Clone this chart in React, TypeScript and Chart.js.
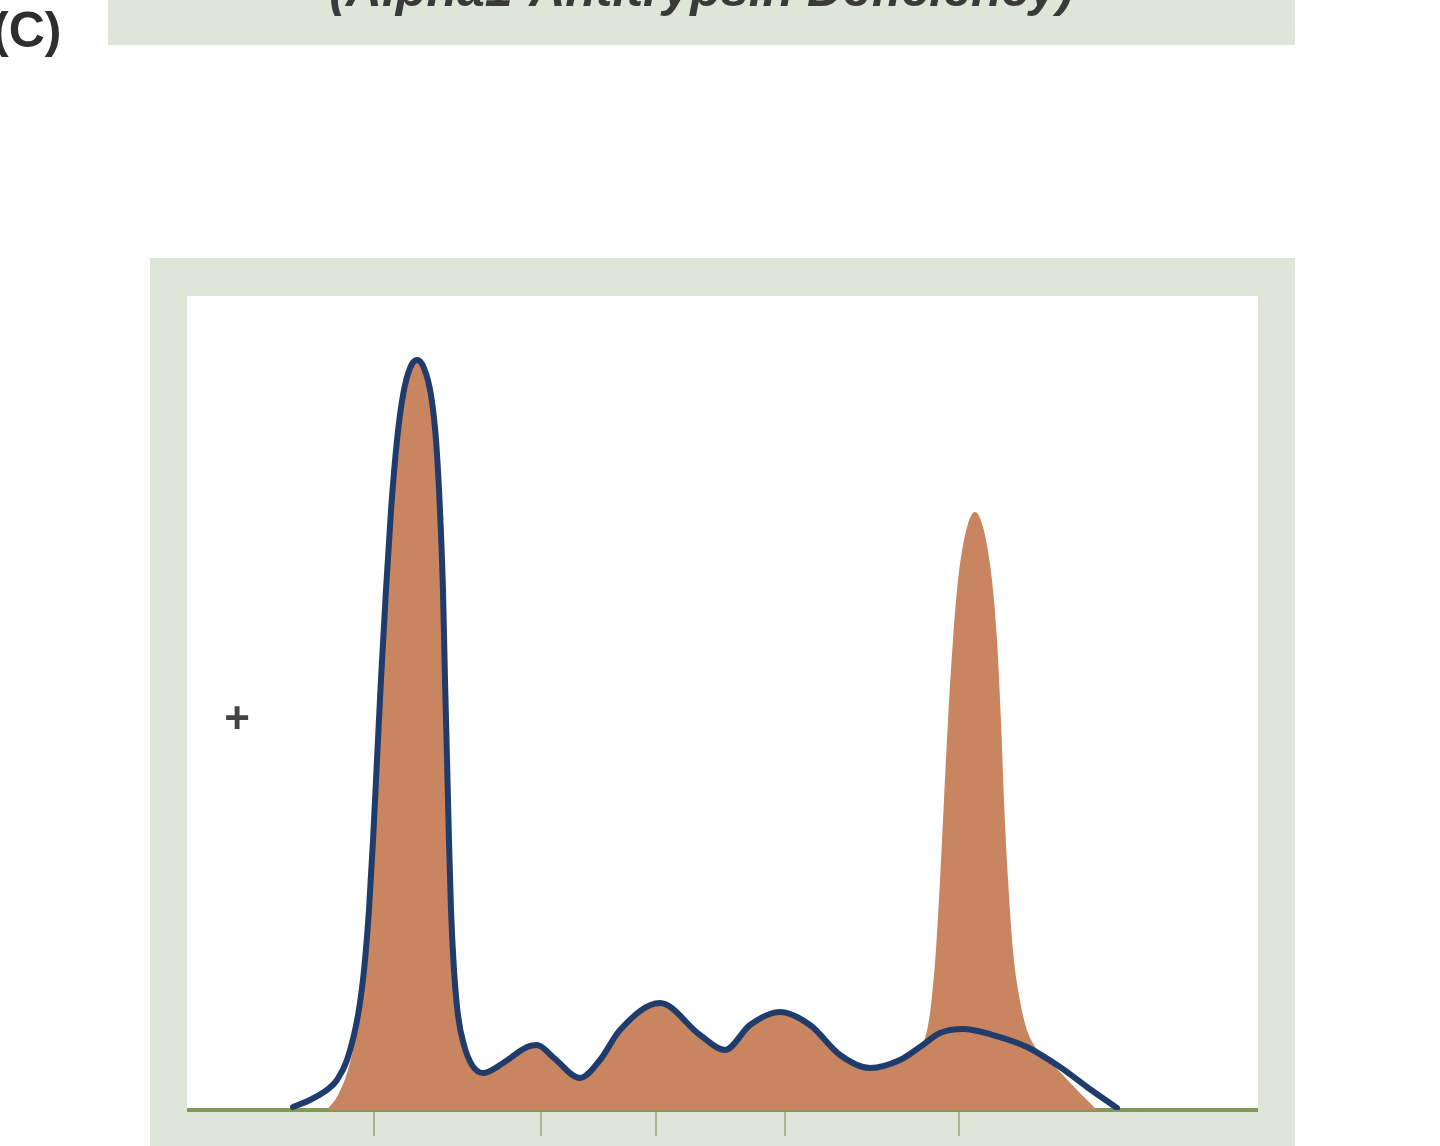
import React, { useEffect, useRef } from "react";
import { Chart, registerables } from "chart.js";

Chart.register(...registerables);

// Patient trace (navy outline): position along strip (0-100) and relative density (0-100)
const outlineX = [9.9, 11.48, 13.07, 14.01, 14.94, 15.97, 16.53, 16.99, 17.37, 17.74, 18.11, 18.58, 19.05, 19.61, 20.17, 20.82, 21.48, 22.13, 22.78, 23.25, 23.62, 23.9, 24.09, 24.28, 24.46, 24.65, 24.93, 25.3, 25.86, 26.61, 27.64, 29.51, 31.75, 32.68, 34.17, 36.69, 38.56, 40.43, 44.16, 47.9, 50.23, 52.57, 55.37, 58.17, 60.97, 63.77, 66.57, 68.44, 70.31, 72.46, 75.26, 78.43, 81.51, 84.03, 86.83];
const outlineY = [0.37, 1.23, 2.46, 3.69, 6.14, 11.67, 17.2, 24.57, 33.17, 43.0, 52.83, 63.88, 73.71, 82.31, 87.84, 91.15, 92.14, 91.15, 87.84, 82.31, 73.71, 63.88, 52.83, 43.0, 33.17, 24.57, 17.2, 11.67, 7.99, 5.53, 4.55, 5.77, 7.74, 7.99, 6.51, 3.93, 6.14, 9.83, 13.14, 9.21, 7.37, 10.44, 12.04, 10.44, 6.76, 5.16, 6.14, 7.74, 9.46, 9.95, 9.21, 7.74, 5.28, 2.83, 0.25];

// Filled (orange) profile
const fillX = [13.07, 14.1, 15.03, 15.69, 16.15, 16.53, 16.99, 17.37, 17.74, 18.11, 18.58, 19.05, 19.61, 20.17, 20.82, 21.48, 22.13, 22.78, 23.25, 23.62, 23.9, 24.09, 24.28, 24.46, 24.65, 24.93, 25.3, 25.86, 26.61, 27.64, 29.51, 31.75, 32.68, 34.17, 36.69, 38.56, 40.43, 44.16, 47.9, 50.23, 52.57, 55.37, 58.17, 60.97, 63.77, 66.57, 67.97, 68.91, 69.47, 69.93, 70.31, 70.68, 71.06, 71.52, 71.99, 72.55, 73.11, 73.58, 74.04, 74.6, 75.16, 75.63, 76.0, 76.28, 76.66, 77.12, 77.68, 78.34, 79.08, 80.11, 81.51, 83.1, 84.97];
const fillY = [0, 1.84, 4.91, 8.6, 12.29, 17.2, 24.57, 33.17, 43.0, 52.83, 63.88, 73.71, 82.31, 87.84, 91.15, 92.14, 91.15, 87.84, 82.31, 73.71, 63.88, 52.83, 43.0, 33.17, 24.57, 17.2, 11.67, 7.99, 5.53, 4.55, 5.77, 7.74, 7.99, 6.51, 3.93, 6.14, 9.83, 13.14, 9.21, 7.37, 10.44, 12.04, 10.44, 6.76, 5.16, 6.14, 7.13, 8.85, 12.9, 19.66, 28.26, 38.08, 47.91, 57.74, 65.11, 70.02, 72.73, 73.46, 72.73, 70.02, 65.11, 57.74, 47.91, 38.08, 28.26, 19.66, 14.13, 10.2, 7.99, 6.51, 4.67, 2.46, 0];

// Tick mark positions along the strip
const tickPositions = [17.5, 33.05, 43.8, 55.8, 72.1];

const TITLE = "(Alpha1-Antitrypsin Deficiency)";
const PANEL = "(C)";

const SAGE = "#dfe5d8";
const NAVY = "#1f3c6d";
const ORANGE = "#c8855f";

export default function App() {
  const ref = useRef<HTMLCanvasElement | null>(null);

  useEffect(() => {
    if (!ref.current) return;
    const whiteArea = {
      id: "whiteArea",
      beforeDraw(chart: any) {
        const { ctx, chartArea } = chart;
        ctx.save();
        ctx.fillStyle = "#ffffff";
        ctx.fillRect(chartArea.left, chartArea.top, chartArea.right - chartArea.left, chartArea.bottom - chartArea.top);
        ctx.restore();
      },
    };
    const chart = new Chart(ref.current, {
      type: "line",
      data: {
        datasets: [
          {
            label: "outline",
            data: outlineX.map((x, i) => ({ x, y: outlineY[i] })),
            borderColor: NAVY,
            borderWidth: 6,
            fill: false,
            pointRadius: 0,
            cubicInterpolationMode: "monotone",
            borderCapStyle: "round",
            borderJoinStyle: "round",
          },
          {
            label: "fill",
            data: fillX.map((x, i) => ({ x, y: fillY[i] })),
            borderWidth: 0,
            borderColor: ORANGE,
            backgroundColor: ORANGE,
            fill: "origin",
            pointRadius: 0,
            cubicInterpolationMode: "monotone",
          },
        ],
      },
      options: {
        responsive: false,
        animation: false,
        devicePixelRatio: 1,
        layout: { padding: 0, autoPadding: false },
        plugins: { legend: { display: false }, tooltip: { enabled: false } },
        scales: {
          x: {
            type: "linear",
            min: 0,
            max: 100,
            afterBuildTicks: (scale: any) => {
              scale.ticks = tickPositions.map((v) => ({ value: v }));
            },
            ticks: { display: false },
            grid: {
              drawOnChartArea: false,
              drawTicks: true,
              tickLength: 26,
              color: "#a7b793",
              lineWidth: 2,
            },
            border: { display: true, color: "#7f9b55", width: 4 },
          },
          y: { type: "linear", min: 0, max: 100, display: false },
        },
      } as any,
      plugins: [whiteArea],
    });
    return () => chart.destroy();
  }, []);

  return (
    <div style={{ position: "absolute", left: 0, top: 0, width: 1440, height: 1146, overflow: "hidden", background: "#ffffff" }}>
      <div style={{ position: "absolute", left: 108, top: 0, width: 1187, height: 45, background: SAGE, overflow: "hidden" }}>
        <div
          style={{
            position: "absolute",
            left: 0,
            width: 1187,
            top: -36,
            textAlign: "center",
            fontFamily: "'Liberation Sans', Arial, sans-serif",
            fontWeight: "bold",
            fontStyle: "italic",
            fontSize: 50,
            lineHeight: "50px",
            color: "#3a3a3a",
            whiteSpace: "nowrap",
          }}
        >
          {TITLE}
        </div>
      </div>
      <div
        style={{
          position: "absolute",
          left: -8,
          top: 0,
          fontFamily: "'Liberation Sans', Arial, sans-serif",
          fontWeight: "bold",
          fontSize: 50,
          lineHeight: "60px",
          color: "#2e2e2e",
          whiteSpace: "nowrap",
        }}
      >
        {PANEL}
      </div>
      <div style={{ position: "absolute", left: 150, top: 258, width: 1145, height: 900, background: SAGE }} />
      <canvas ref={ref} width={1071} height={840} style={{ position: "absolute", left: 187, top: 296, width: 1071, height: 840 }} />
      <div
        style={{
          position: "absolute",
          left: 215,
          top: 696,
          width: 44,
          textAlign: "center",
          fontFamily: "'Liberation Sans', Arial, sans-serif",
          fontWeight: "bold",
          fontSize: 44,
          lineHeight: "44px",
          color: "#444444",
        }}
      >
        +
      </div>
    </div>
  );
}
